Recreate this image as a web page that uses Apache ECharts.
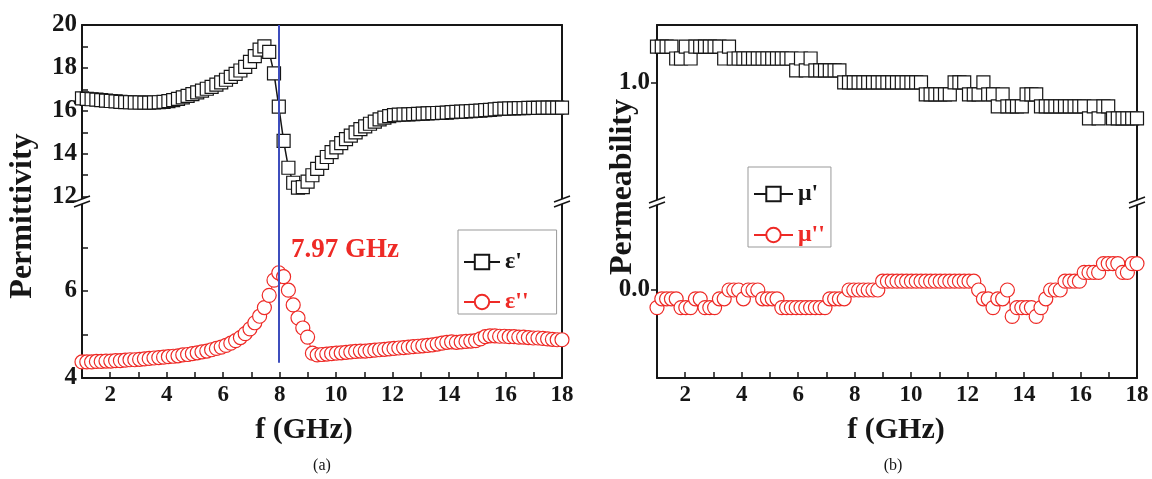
<!DOCTYPE html>
<html>
<head>
<meta charset="utf-8">
<script src="https://cdn.jsdelivr.net/npm/echarts@6/dist/echarts.min.js"></script>
<style>
  html, body { margin: 0; padding: 0; background: #fff; }
  #chart { width: 1152px; height: 479px; }
</style>
</head>
<body>
<div id="chart"></div>
<script>
// frequency sweep, 1-18 GHz, 101 points
var freq = [
  1.00, 1.17, 1.34, 1.51, 1.68, 1.85, 2.02, 2.19, 2.36, 2.53,
  2.70, 2.87, 3.04, 3.21, 3.38, 3.55, 3.72, 3.89, 4.06, 4.23,
  4.40, 4.57, 4.74, 4.91, 5.08, 5.25, 5.42, 5.59, 5.76, 5.93,
  6.10, 6.27, 6.44, 6.61, 6.78, 6.95, 7.12, 7.29, 7.46, 7.63,
  7.80, 7.97, 8.14, 8.31, 8.48, 8.65, 8.82, 8.99, 9.16, 9.33,
  9.50, 9.67, 9.84, 10.01, 10.18, 10.35, 10.52, 10.69, 10.86, 11.03,
  11.20, 11.37, 11.54, 11.71, 11.88, 12.05, 12.22, 12.39, 12.56, 12.73,
  12.90, 13.07, 13.24, 13.41, 13.58, 13.75, 13.92, 14.09, 14.26, 14.43,
  14.60, 14.77, 14.94, 15.11, 15.28, 15.45, 15.62, 15.79, 15.96, 16.13,
  16.30, 16.47, 16.64, 16.81, 16.98, 17.15, 17.32, 17.49, 17.66, 17.83,
  18.00
];

// (a) permittivity
var epsReal = [
  16.58, 16.56, 16.54, 16.52, 16.50, 16.48, 16.46, 16.44, 16.42, 16.41,
  16.40, 16.39, 16.39, 16.38, 16.38, 16.39, 16.40, 16.42, 16.45, 16.50,
  16.56, 16.63, 16.70, 16.78, 16.86, 16.94, 17.03, 17.12, 17.22, 17.33,
  17.45, 17.58, 17.72, 17.88, 18.05, 18.28, 18.55, 18.85, 19.00, 18.75,
  17.75, 16.20, 14.60, 13.35, 12.65, 12.42, 12.45, 12.70, 13.00, 13.30,
  13.58, 13.85, 14.08, 14.30, 14.50, 14.68, 14.85, 15.00, 15.15, 15.28,
  15.40, 15.50, 15.60, 15.68, 15.75, 15.80, 15.82, 15.83, 15.84, 15.85,
  15.86, 15.87, 15.88, 15.89, 15.90, 15.91, 15.92, 15.94, 15.95, 15.96,
  15.97, 15.99, 16.00, 16.01, 16.03, 16.05, 16.07, 16.09, 16.10, 16.11,
  16.12, 16.13, 16.13, 16.14, 16.14, 16.14, 16.15, 16.15, 16.15, 16.15,
  16.15
];
var epsImag = [
  4.37, 4.37, 4.37, 4.38, 4.38, 4.39, 4.39, 4.40, 4.40, 4.41,
  4.42, 4.42, 4.43, 4.44, 4.45, 4.46, 4.47, 4.48, 4.49, 4.50,
  4.51, 4.53, 4.54, 4.56, 4.58, 4.60, 4.62, 4.65, 4.68, 4.71,
  4.75, 4.80, 4.86, 4.93, 5.02, 5.13, 5.27, 5.42, 5.62, 5.90,
  6.25, 6.42, 6.33, 6.02, 5.68, 5.38, 5.15, 4.94, 4.57, 4.53,
  4.54, 4.55, 4.56, 4.57, 4.58, 4.59, 4.60, 4.61, 4.62, 4.62,
  4.63, 4.64, 4.65, 4.66, 4.67, 4.68, 4.69, 4.70, 4.71, 4.72,
  4.73, 4.74, 4.75, 4.76, 4.78, 4.80, 4.82, 4.83, 4.82, 4.83,
  4.84, 4.85, 4.86, 4.90, 4.95, 4.97, 4.97, 4.96, 4.96, 4.95,
  4.95, 4.94, 4.94, 4.93, 4.92, 4.92, 4.91, 4.90, 4.89, 4.88,
  4.88
];

// (b) permeability
var muReal = [
  1.15, 1.15, 1.15, 1.15, 1.10, 1.10, 1.15, 1.10, 1.15, 1.15,
  1.15, 1.15, 1.15, 1.15, 1.10, 1.15, 1.10, 1.10, 1.10, 1.10,
  1.10, 1.10, 1.10, 1.10, 1.10, 1.10, 1.10, 1.10, 1.10, 1.05,
  1.10, 1.05, 1.10, 1.05, 1.05, 1.05, 1.05, 1.05, 1.05, 1.00,
  1.00, 1.00, 1.00, 1.00, 1.00, 1.00, 1.00, 1.00, 1.00, 1.00,
  1.00, 1.00, 1.00, 1.00, 1.00, 1.00, 0.95, 0.95, 0.95, 0.95,
  0.95, 0.95, 1.00, 1.00, 1.00, 0.95, 0.95, 0.95, 1.00, 0.95,
  0.95, 0.90, 0.95, 0.90, 0.90, 0.90, 0.90, 0.95, 0.95, 0.95,
  0.90, 0.90, 0.90, 0.90, 0.90, 0.90, 0.90, 0.90, 0.90, 0.90,
  0.85, 0.90, 0.85, 0.90, 0.90, 0.85, 0.85, 0.85, 0.85, 0.85,
  0.85
];
var muImag = [
  -0.04, -0.02, -0.02, -0.02, -0.02, -0.04, -0.04, -0.04, -0.02, -0.02,
  -0.04, -0.04, -0.04, -0.02, -0.02, 0.00, 0.00, 0.00, -0.02, 0.00,
  0.00, 0.00, -0.02, -0.02, -0.02, -0.02, -0.04, -0.04, -0.04, -0.04,
  -0.04, -0.04, -0.04, -0.04, -0.04, -0.04, -0.02, -0.02, -0.02, -0.02,
  0.00, 0.00, 0.00, 0.00, 0.00, 0.00, 0.00, 0.02, 0.02, 0.02,
  0.02, 0.02, 0.02, 0.02, 0.02, 0.02, 0.02, 0.02, 0.02, 0.02,
  0.02, 0.02, 0.02, 0.02, 0.02, 0.02, 0.02, 0.00, -0.02, -0.02,
  -0.04, -0.02, -0.02, 0.00, -0.06, -0.04, -0.04, -0.04, -0.04, -0.06,
  -0.04, -0.02, 0.00, 0.00, 0.00, 0.02, 0.02, 0.02, 0.02, 0.04,
  0.04, 0.04, 0.04, 0.06, 0.06, 0.06, 0.06, 0.04, 0.04, 0.06,
  0.06
];

var xTickLabels = [2, 4, 6, 8, 10, 12, 14, 16, 18];
var epsRealTicks = [12, 13, 14, 15, 16, 17, 18, 19, 20];
var epsRealLabels = [12, 14, 16, 18, 20];
var epsImagTicks = [4, 5, 6, 7];
var epsImagLabels = [4, 6];
var muRealLabels = [1.0];
var muImagLabels = [0.0];
var resonance = 7.97;

var INK = '#161616';
var RED = '#ee2a26';
var BLUE = '#3d4dbd';
var FONT = '"Liberation Serif", "Times New Roman", serif';

function pairs(ys) {
    return freq.map(function (f, i) { return [f, ys[i]]; });
}

// x axis: bottom one carries ticks and labels, top one only closes the box
function xAxisCfg(gridIndex, bottom) {
    return {
        type: 'value', gridIndex: gridIndex, min: 1, max: 18, interval: 1,
        position: bottom ? 'bottom' : 'top',
        axisLine: { show: true, onZero: false, lineStyle: { color: INK, width: 2 } },
        axisTick: { show: bottom, inside: true, length: 6, lineStyle: { color: INK, width: 1.5 } },
        axisLabel: {
            show: bottom, customValues: xTickLabels, margin: 6, color: INK,
            fontFamily: FONT, fontWeight: 'bold', fontSize: 23
        },
        splitLine: { show: false }
    };
}

function yAxisCfg(gridIndex, min, max, ticks, labels, inside, digits) {
    return {
        type: 'value', gridIndex: gridIndex, min: min, max: max, position: 'left',
        axisLine: { show: true, onZero: false, lineStyle: { color: INK, width: 2 } },
        axisTick: { show: true, inside: inside, length: 6, customValues: ticks, lineStyle: { color: INK, width: 1.5 } },
        axisLabel: {
            customValues: labels, margin: inside ? 5 : 7, color: INK,
            fontFamily: FONT, fontWeight: 'bold', fontSize: 25,
            formatter: function (v) { return v.toFixed(digits); }
        },
        splitLine: { show: false }
    };
}

function rightBorder(gridIndex) {
    return {
        type: 'value', gridIndex: gridIndex, position: 'right',
        axisLine: { show: true, onZero: false, lineStyle: { color: INK, width: 2 } },
        axisTick: { show: false }, axisLabel: { show: false }, splitLine: { show: false }
    };
}

function breakMark(cx, cy) {
    return [
        { type: 'polygon', z: 100, shape: { points: [[cx - 8, cy + 1], [cx + 8, cy - 5], [cx + 8, cy], [cx - 8, cy + 6]] }, style: { fill: '#fff' } },
        { type: 'line', z: 101, shape: { x1: cx - 8, y1: cy + 1, x2: cx + 8, y2: cy - 5 }, style: { stroke: INK, lineWidth: 1.5 } },
        { type: 'line', z: 101, shape: { x1: cx - 8, y1: cy + 6, x2: cx + 8, y2: cy }, style: { stroke: INK, lineWidth: 1.5 } }
    ];
}

function label(text, x, y, font, color, rotation) {
    return {
        type: 'text', x: x, y: y, rotation: rotation || 0, z: 50,
        style: {
            text: text, font: font, fill: color,
            align: 'center', verticalAlign: 'middle', textAlign: 'center', textVerticalAlign: 'middle'
        }
    };
}

function squareSeries(name, xi, yi, data) {
    return {
        name: name, type: 'line', xAxisIndex: xi, yAxisIndex: yi, data: data,
        symbol: 'rect', symbolSize: 13,
        itemStyle: { color: '#fff', borderColor: INK, borderWidth: 1.2 },
        lineStyle: { color: INK, width: 1.5 },
        emphasis: { disabled: true }
    };
}

function circleSeries(name, xi, yi, data) {
    return {
        name: name, type: 'line', xAxisIndex: xi, yAxisIndex: yi, data: data,
        symbol: 'circle', symbolSize: 14,
        itemStyle: { color: '#fff', borderColor: RED, borderWidth: 1.2 },
        lineStyle: { color: RED, width: 1 },
        emphasis: { disabled: true }
    };
}

var legendText = { fontFamily: FONT, fontSize: 24, fontWeight: 'bold' };

var option = {
    animation: false,
    backgroundColor: '#fff',
    grid: [
        { left: 82, width: 480, top: 25, height: 176 },
        { left: 82, width: 480, top: 201, height: 177 },
        { left: 657, width: 480, top: 25, height: 177 },
        { left: 657, width: 480, top: 202, height: 176 }
    ],
    xAxis: [xAxisCfg(0, false), xAxisCfg(1, true), xAxisCfg(2, false), xAxisCfg(3, true)],
    yAxis: [
        yAxisCfg(0, 11.8, 20, epsRealTicks, epsRealLabels, true, 0),
        yAxisCfg(1, 4, 8.07, epsImagTicks, epsImagLabels, true, 0),
        yAxisCfg(2, 0.5, 1.24, muRealLabels, muRealLabels, false, 1),
        yAxisCfg(3, -0.2, 0.2, muImagLabels, muImagLabels, false, 1),
        rightBorder(0), rightBorder(1), rightBorder(2), rightBorder(3)
    ],
    legend: [
        {
            data: [{ name: "ε'", textStyle: { color: INK } }, { name: "ε''", textStyle: { color: RED } }],
            orient: 'vertical', left: 458, top: 230, padding: [20, 28, 0, 5], itemGap: 16,
            itemWidth: 36, itemHeight: 18, borderColor: '#999', borderWidth: 1,
            selectedMode: false, textStyle: legendText
        },
        {
            data: [{ name: "μ'", textStyle: { color: INK } }, { name: "μ''", textStyle: { color: RED } }],
            orient: 'vertical', left: 748, top: 167, padding: [15, 6, 0, 5], itemGap: 17,
            itemWidth: 39, itemHeight: 18, borderColor: '#999', borderWidth: 1,
            selectedMode: false, textStyle: legendText
        }
    ],
    series: [
        Object.assign(squareSeries("ε'", 0, 0, pairs(epsReal)), {
            markLine: {
                silent: true, symbol: 'none', label: { show: false },
                lineStyle: { color: BLUE, width: 2, type: 'solid' },
                data: [{ xAxis: resonance }]
            }
        }),
        Object.assign(circleSeries("ε''", 1, 1, pairs(epsImag)), {
            markLine: {
                silent: true, symbol: 'none', label: { show: false },
                lineStyle: { color: BLUE, width: 2, type: 'solid' },
                data: [[{ xAxis: resonance, yAxis: 8.07 }, { xAxis: resonance, yAxis: 4.35 }]]
            }
        }),
        squareSeries("μ'", 2, 2, pairs(muReal)),
        circleSeries("μ''", 3, 3, pairs(muImag))
    ],
    graphic: [].concat(
        breakMark(82, 201), breakMark(562, 201), breakMark(657, 202), breakMark(1137, 202),
        [
            label('Permittivity', 23, 216, 'bold 32px ' + FONT, INK, Math.PI / 2),
            label('Permeability', 623, 187, 'bold 32px ' + FONT, INK, Math.PI / 2),
            label('f (GHz)', 304, 430, 'bold 30px ' + FONT, INK),
            label('f (GHz)', 896, 430, 'bold 30px ' + FONT, INK),
            label('7.97 GHz', 345, 250, 'bold 27px ' + FONT, RED),
            label('(a)', 322, 466, '16px ' + FONT, INK),
            label('(b)', 893, 466, '16px ' + FONT, INK)
        ]
    )
};

var chart = echarts.init(document.getElementById('chart'));
chart.setOption(option);
</script>
</body>
</html>
